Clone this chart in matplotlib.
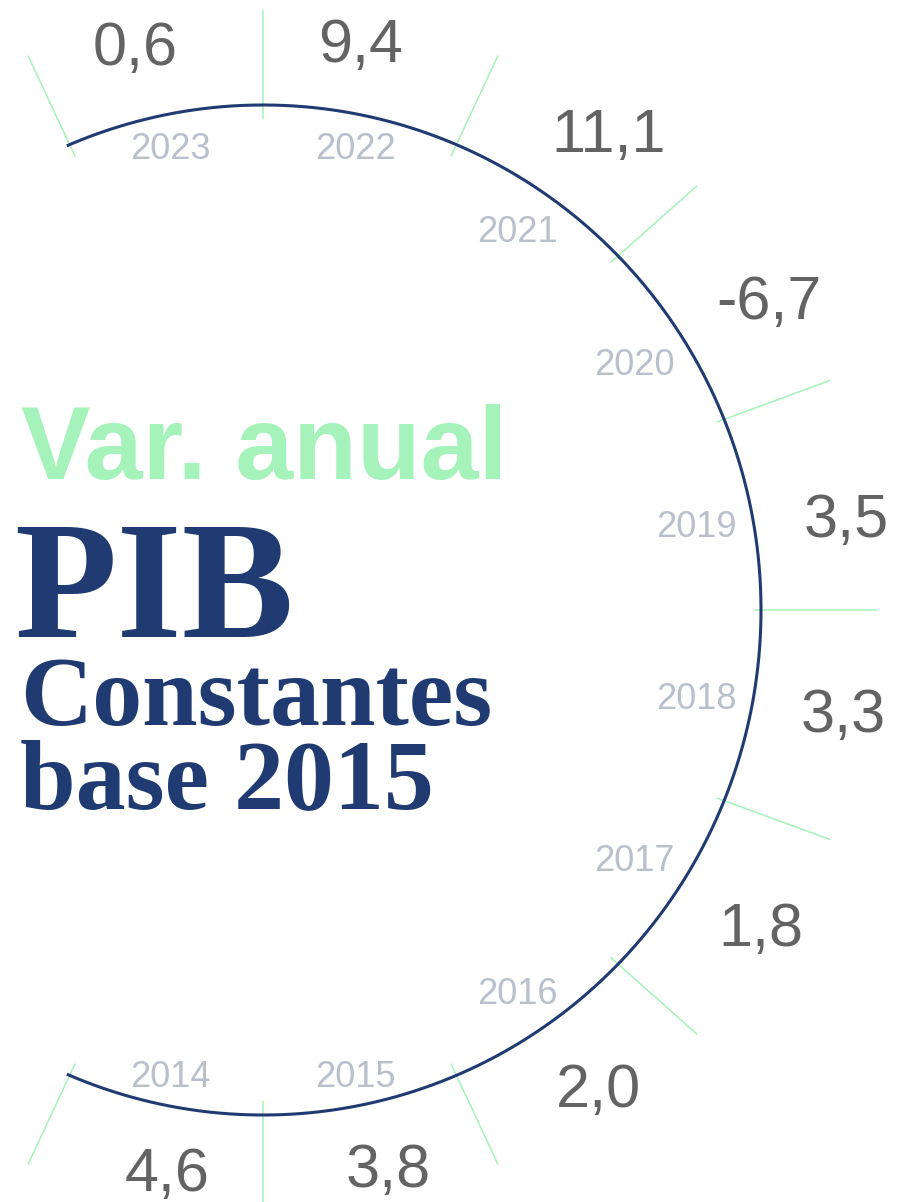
import numpy as np
import matplotlib.pyplot as plt

years = [2014, 2015, 2016, 2017, 2018, 2019, 2020, 2021, 2022, 2023]
values = [4.6, 3.8, 2.0, 1.8, 3.3, 3.5, -6.7, 11.1, 9.4, 0.6]

navy = "#203b72"
green = "#a5f3ba"
grey = "#636363"
year_col = "#b9c0cc"

# geometry of the arc (pixels, y down)
cx, cy = 263, 610
rx, ry = 498, 505
step = 22.5
start = -112.5  # 2014 begins at the lower left

def pt(theta, ax_r, ay_r):
    t = np.radians(theta)
    return cx + ax_r * np.cos(t), cy - ay_r * np.sin(t)

fig = plt.figure(figsize=(8.98, 12.02), dpi=100)
ax = fig.add_axes([0, 0, 1, 1])
ax.set_xlim(0, 898)
ax.set_ylim(1202, 0)
ax.axis("off")

# ticks between years
for i in range(len(years) + 1):
    th = start + i * step
    x0, y0 = pt(th, 491, 491)
    x1, y1 = pt(th, 614, 600)
    ax.plot([x0, x1], [y0, y1], color=green, lw=1.1, solid_capstyle="butt")

# the arc
th = np.linspace(start - 0.7, start + step * len(years) + 0.7, 400)
xs, ys = pt(th, rx, ry)
ax.plot(xs, ys, color=navy, lw=2.2, solid_capstyle="butt")

renderer = fig.canvas.get_renderer()

def place(label, theta, edge, sign, fs, w=None, **kw):
    # edge: distance from centre to the near side of the label box
    t = ax.text(0, 0, label, ha="center", va="baseline", fontsize=fs, **kw)
    if w is None:
        w = t.get_window_extent(renderer).width
    h = 0.72 * fs * 100 / 72  # digit height in px
    a = np.radians(theta)
    r = edge + sign * (abs(np.cos(a)) * w / 2 + abs(np.sin(a)) * h / 2)
    t.set_position((cx + r * np.cos(a), cy - r * np.sin(a) + h / 2))

for i, (yr, v) in enumerate(zip(years, values)):
    mid = start + (i + 0.5) * step
    s = np.sin(np.radians(mid))
    place(str(yr), mid, 484 + 10 * s ** 2, -1, 26, color=year_col,
          family="Liberation Sans")
    lab = ("%.1f" % v).replace(".", ",")
    nudge = -2 if 0 < mid < 60 else 1.5
    place(lab, mid + nudge, 544 + 6 * s, 1, 44, w=86, color=grey,
          family="Liberation Sans")

ax.text(21, 479, "Var. anual", fontsize=75, fontweight="bold", color=green,
        family="Liberation Sans", va="baseline")
ax.text(14, 637, "PIB", fontsize=121, fontweight="bold", color=navy,
        family="Liberation Serif", va="baseline")
ax.text(20, 725, "Constantes", fontsize=72, fontweight="bold", color=navy,
        family="Liberation Serif", va="baseline")
ax.text(20, 808, "base 2015", fontsize=72, fontweight="bold", color=navy,
        family="Liberation Serif", va="baseline")

plt.savefig("out.png", dpi=100)
